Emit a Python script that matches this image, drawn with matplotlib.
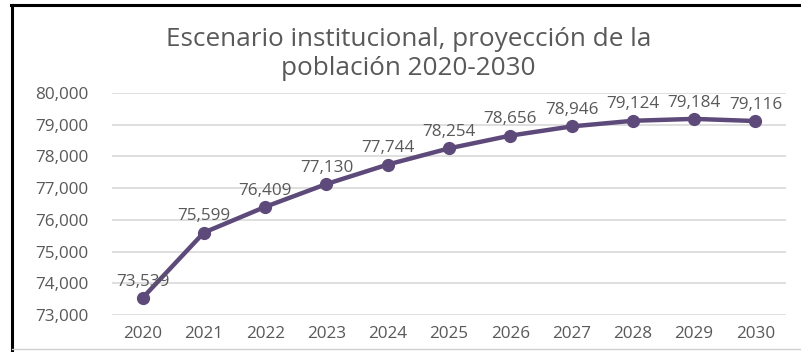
import matplotlib.pyplot as plt
from matplotlib.lines import Line2D
from matplotlib.ticker import FuncFormatter

years = ["2020", "2021", "2022", "2023", "2024", "2025", "2026", "2027", "2028", "2029", "2030"]
population = [73539, 75599, 76409, 77130, 77744, 78254, 78656, 78946, 79124, 79184, 79116]
y_ticks = [73000, 74000, 75000, 76000, 77000, 78000, 79000, 80000]
title = "Escenario institucional, proyección de la\npoblación 2020-2030"

plt.rcParams['font.family'] = ['Open Sans', 'DejaVu Sans']
text_color = "#595959"
line_color = "#5e4a7a"

fig = plt.figure(figsize=(8.01, 3.52), dpi=100)
ax = fig.add_axes([0.1398, 0.1051, 0.8415, 0.6307])

x = list(range(len(years)))
ax.plot(x, population, color=line_color, lw=3.2, marker='o', ms=8.5, zorder=3)
for xi, v in zip(x, population):
    ax.annotate(f"{v:,}", (xi, v), xytext=(0, 6), textcoords='offset points',
                ha='center', va='bottom', fontsize=12.3, color=text_color)

ax.set_xlim(-0.5, len(years) - 0.5)
ax.set_ylim(y_ticks[0], y_ticks[-1])
ax.set_yticks(y_ticks)
ax.yaxis.set_major_formatter(FuncFormatter(lambda v, p: f"{int(v):,}"))
ax.set_xticks(x)
ax.set_xticklabels(years)
ax.grid(axis='y', color='#d9d9d9', lw=1.2)
ax.set_axisbelow(True)
for s in ax.spines.values():
    s.set_visible(False)
ax.tick_params(length=0, labelsize=12.3, labelcolor=text_color)
ax.tick_params(axis='y', pad=17)
ax.tick_params(axis='x', pad=8)

fig.text(0.51, 0.846, title, ha='center', va='center', fontsize=18.8,
         color=text_color, linespacing=1.2)

# outer frame
fig.add_artist(Line2D([0.0137, 1.0], [0.986, 0.986], color='black', lw=2.2,
                      transform=fig.transFigure))
fig.add_artist(Line2D([0.0150, 0.0150], [0.0, 0.986], color='black', lw=2.2,
                      transform=fig.transFigure))
fig.add_artist(Line2D([0.0150, 1.0], [0.009, 0.009], color='#cfcfcf', lw=1,
                      transform=fig.transFigure))

fig.savefig("out.png", dpi=100, facecolor='white')
